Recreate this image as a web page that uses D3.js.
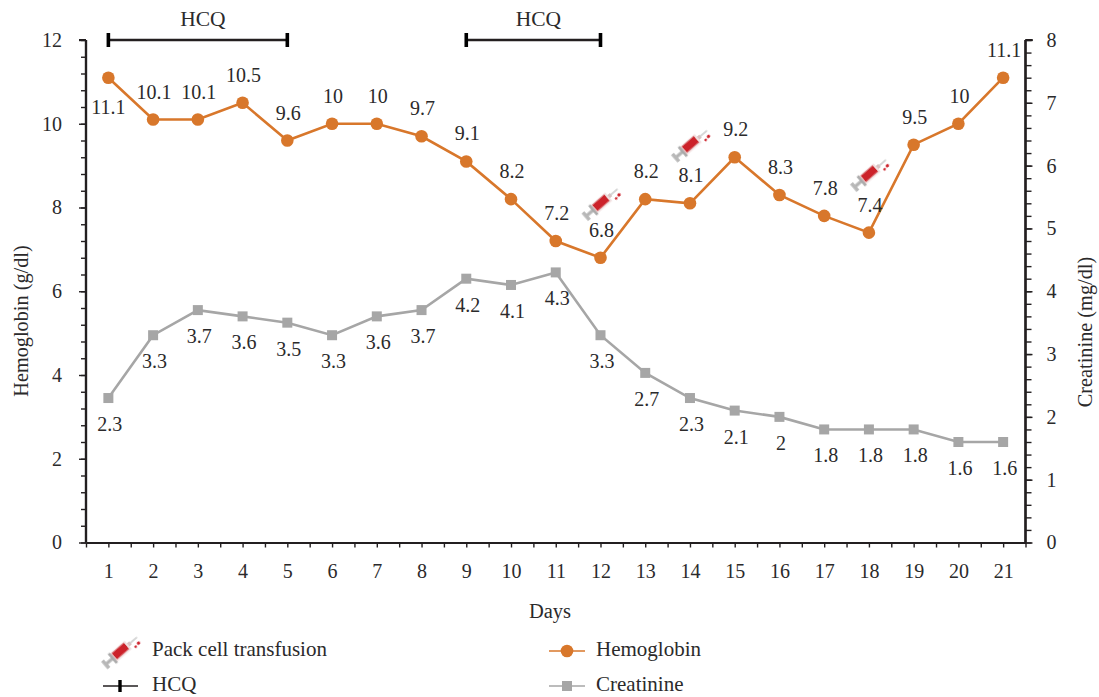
<!DOCTYPE html>
<html><head><meta charset="utf-8">
<style>html,body{margin:0;padding:0;background:#fff}svg{display:block}
text{font-family:"Liberation Serif",serif;fill:#2b2a2b;font-size:20px}
.domain,.tick line{stroke:#231f20}</style>
<script src="https://cdn.jsdelivr.net/npm/d3@7/dist/d3.min.js"></script>
</head><body><svg id="c" width="1099" height="697"></svg>
<script>
const days=d3.range(1,22);
const hemoglobin=[11.1,10.1,10.1,10.5,9.6,10,10,9.7,9.1,8.2,7.2,6.8,8.2,8.1,9.2,8.3,7.8,7.4,9.5,10,11.1];
const creatinine=[2.3,3.3,3.7,3.6,3.5,3.3,3.6,3.7,4.2,4.1,4.3,3.3,2.7,2.3,2.1,2,1.8,1.8,1.8,1.6,1.6];
const hcqPeriods=[[1,5],[9,12]];
const transfusionDays=[12,14,18];
const leftTicks=[0,2,4,6,8,10,12];
const rightTicks=[0,1,2,3,4,5,6,7,8];

const ORANGE="#d8772b",GREY="#a6a6a6",INK="#231f20";
const svg=d3.select("#c");
const x=d3.scaleLinear().domain([0.5,21.5]).range([86,1025.5]);
const yL=d3.scaleLinear().domain([0,12]).range([542.5,40]);
const yR=d3.scaleLinear().domain([0,8]).range([542.5,40]);

// syringe glyph
const defs=svg.append("defs");
defs.append("filter").attr("id","soft").append("feGaussianBlur").attr("stdDeviation",0.6);
const syr=defs.append("g").attr("id","syringe").attr("filter","url(#soft)");
syr.append("rect").attr("x",-20).attr("y",-1.8).attr("width",9).attr("height",3.6).attr("fill","#b4b4b4");
syr.append("rect").attr("x",-23).attr("y",-5.5).attr("width",4).attr("height",11).attr("fill","#b8b8b8");
syr.append("rect").attr("x",-12).attr("y",-7).attr("width",3).attr("height",14).attr("fill","#a8a8a8");
syr.append("rect").attr("x",-9).attr("y",-6).attr("width",21).attr("height",12).attr("fill","#f1dede");
syr.append("rect").attr("x",-8).attr("y",-5).attr("width",18).attr("height",9).attr("fill","#cc2029");
syr.append("rect").attr("x",12).attr("y",-2.2).attr("width",3.5).attr("height",4.4).attr("fill","#d9c2c2");
syr.append("rect").attr("x",15).attr("y",-.8).attr("width",10).attr("height",1.6).attr("fill","#c8c8c8");
syr.append("circle").attr("cx",22).attr("cy",6).attr("r",1.9).attr("fill","#cc2029");
syr.append("circle").attr("cx",17).attr("cy",7).attr("r",1.4).attr("fill","#cc2029");

// axes
function style(g,w){g.selectAll(".domain").attr("stroke-width",w);g.selectAll(".tick line").attr("stroke-width",1.4);}
function clean(g){g.selectAll("text").attr("font-size",null).attr("font-family",null).style("font-size","20px");}
const minorL=d3.range(0,12.01,0.4), minorR=d3.range(0,8.01,0.2);
const gL=svg.append("g").attr("transform","translate(86,0)");
gL.call(d3.axisLeft(yL).tickValues(minorL).tickSize(5).tickSizeOuter(0).tickFormat(""));
gL.append("g").call(d3.axisLeft(yL).tickValues(leftTicks).tickSize(7).tickPadding(17).tickFormat(d3.format("d")));
clean(gL);
style(gL,2.2);gL.selectAll(".domain").attr("d",`M0,${yL(12)}H-7M0,${yL(12)}V${yL(0)}`);
const gR=svg.append("g").attr("transform","translate(1025.5,0)");
gR.call(d3.axisRight(yR).tickValues(minorR).tickSize(6).tickSizeOuter(0).tickFormat(""));
gR.append("g").call(d3.axisRight(yR).tickValues(rightTicks).tickSize(7).tickPadding(14).tickFormat(d3.format("d")));
clean(gR);
style(gR,2.2);gR.selectAll(".domain").attr("d",`M0,${yR(8)}H7M0,${yR(8)}V${yR(0)}`);
const gX=svg.append("g").attr("transform","translate(0,542.5)");
gX.call(d3.axisBottom(x).tickValues(d3.range(0.5,21.6,0.5)).tickSize(5).tickSizeOuter(0).tickFormat(""));
gX.append("g").call(d3.axisBottom(x).tickValues(days).tickSize(0).tickPadding(21).tickFormat(d3.format("d"))).select(".domain").remove();
clean(gX);
style(gX,2.2);

// titles
svg.append("text").attr("transform","translate(28,321) rotate(-90)").attr("text-anchor","middle").style("font-size","20.3px").text("Hemoglobin (g/dl)");
svg.append("text").attr("transform","translate(1092,332) rotate(-90)").attr("text-anchor","middle").style("font-size","20.3px").text("Creatinine (mg/dl)");
svg.append("text").attr("x",550).attr("y",618).attr("text-anchor","middle").style("font-size","20.5px").text("Days");

// series
const lineH=d3.line().x((d,i)=>x(days[i])).y(d=>yL(d));
const lineC=d3.line().x((d,i)=>x(days[i])).y(d=>yR(d));
svg.append("path").attr("d",lineC(creatinine)).attr("fill","none").attr("stroke",GREY).attr("stroke-width",2.6);
svg.selectAll(".cm").data(creatinine).join("rect").attr("class","cm").attr("x",(d,i)=>x(days[i])-5).attr("y",d=>yR(d)-5).attr("width",10).attr("height",10).attr("fill",GREY);
svg.append("path").attr("d",lineH(hemoglobin)).attr("fill","none").attr("stroke",ORANGE).attr("stroke-width",2.6);
svg.selectAll(".hm").data(hemoglobin).join("circle").attr("class","hm").attr("cx",(d,i)=>x(days[i])).attr("cy",d=>yL(d)).attr("r",6.3).attr("fill",ORANGE);

// value labels
svg.selectAll(".hl").data(hemoglobin).join("text").attr("class","hl").attr("text-anchor","middle")
  .attr("x",(d,i)=>x(days[i])+(i===0?0:1)).attr("y",(d,i)=>yL(d)+(i===0?36:-21)).text(d=>d);
svg.selectAll(".cl").data(creatinine).join("text").attr("class","cl").attr("text-anchor","middle")
  .attr("x",(d,i)=>x(days[i])+1.5).attr("y",(d,i)=>yR(d)+33).text(d=>d);

// transfusion glyphs
svg.selectAll(".sy").data(transfusionDays).join("use").attr("class","sy").attr("href","#syringe")
  .attr("transform",d=>`translate(${x(d)},${yL(hemoglobin[d-1])-(d===12?54:58)}) rotate(-41) scale(.9)`);

// HCQ bars
const gH=svg.selectAll(".hcq").data(hcqPeriods).join("g").attr("class","hcq");
gH.append("line").attr("x1",d=>x(d[0])).attr("x2",d=>x(d[1])).attr("y1",yL(12)).attr("y2",yL(12)).attr("stroke",INK).attr("stroke-width",2.4);
gH.selectAll(".cap").data(d=>d).join("line").attr("class","cap").attr("x1",d=>x(d)).attr("x2",d=>x(d)).attr("y1",yL(12)-7).attr("y2",yL(12)+7).attr("stroke","#000").attr("stroke-width",3.6);
gH.append("text").attr("text-anchor","middle").attr("x",d=>(x(d[0])+x(d[1]))/2+5).attr("y",yL(12)-14).style("font-size","21.5px").text("HCQ");

// legend
const lg=svg.append("g");
lg.append("use").attr("href","#syringe").attr("transform","translate(120,652) rotate(-41) scale(.9)");
lg.append("text").attr("x",152).attr("y",656).style("font-size","21px").text("Pack cell transfusion");
lg.append("line").attr("x1",103).attr("x2",138).attr("y1",686).attr("y2",686).attr("stroke",INK).attr("stroke-width",1.4);
lg.append("line").attr("x1",120).attr("x2",120).attr("y1",680).attr("y2",692).attr("stroke","#000").attr("stroke-width",3.4);
lg.append("text").attr("x",152).attr("y",691).style("font-size","21px").text("HCQ");
lg.append("line").attr("x1",549).attr("x2",585).attr("y1",651).attr("y2",651).attr("stroke",ORANGE).attr("stroke-width",1.6);
lg.append("circle").attr("cx",567).attr("cy",651).attr("r",6.3).attr("fill",ORANGE);
lg.append("text").attr("x",596).attr("y",656).style("font-size","21px").text("Hemoglobin");
lg.append("line").attr("x1",549).attr("x2",585).attr("y1",686).attr("y2",686).attr("stroke",GREY).attr("stroke-width",1.6);
lg.append("rect").attr("x",562).attr("y",681).attr("width",10).attr("height",10).attr("fill",GREY);
lg.append("text").attr("x",596).attr("y",691).style("font-size","21px").text("Creatinine");
</script></body></html>
